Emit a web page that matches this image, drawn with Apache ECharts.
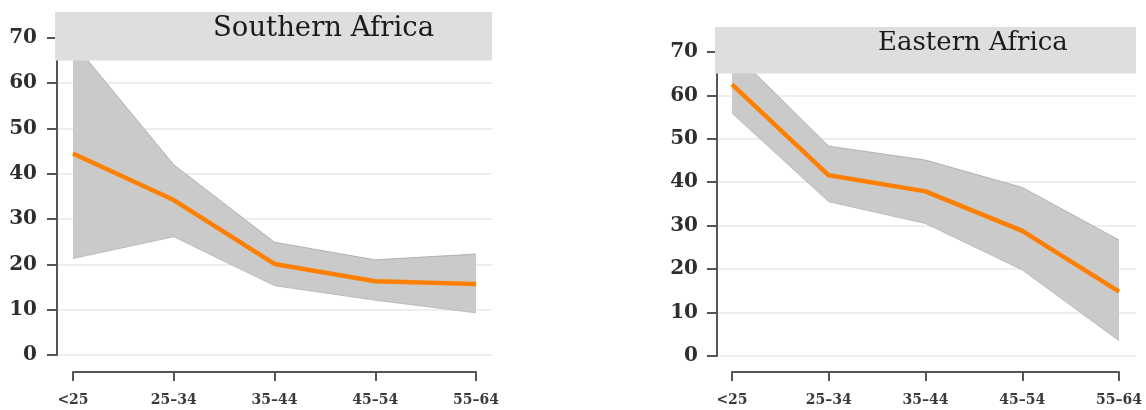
<!DOCTYPE html>
<html>
<head>
<meta charset="utf-8">
<script src="https://cdn.jsdelivr.net/npm/echarts@6/dist/echarts.min.js"></script>
<style>
  html, body { margin: 0; padding: 0; background: #fff; }
  #chart { width: 1146px; height: 410px; }
</style>
</head>
<body>
<div id="chart"></div>
<script>
// 年龄组
const categories = ['<25', '25–34', '35–44', '45–54', '55–64']
const yTicks = [0, 10, 20, 30, 40, 50, 60, 70]
// Southern Africa
const southMean = [44.5, 34.2, 20.1, 16.3, 15.7]
const southUpper = [69, 42, 24.9, 21, 22.3]
const southLower = [21.3, 26.1, 15.3, 12.1, 9.3]
// Eastern Africa
const eastMean = [62.5, 41.6, 37.9, 28.8, 14.8]
const eastUpper = [70.3, 48.3, 45.1, 38.8, 26.7]
const eastLower = [55.9, 35.5, 30.5, 19.8, 3.5]
// 标题横幅范围
const bannerFrom = 65
const axisMax = 75.5

const serif = '"DejaVu Serif", serif'

const myChart = echarts.init(document.getElementById('chart'), null, { renderer: 'canvas' })

const grids = []
const xAxes = []
const yAxes = []
const series = []
const titles = []

// 一个面板：背景网格(y轴+网格线+横幅) + 数据网格(类目x轴)
const addPanel = (p) => {
  const gBg = grids.length
  grids.push({ left: p.bgLeft, width: p.bgWidth, top: p.top, height: p.height })
  grids.push({ left: p.dataLeft, width: p.dataWidth, top: p.top, height: p.height })
  const gData = gBg + 1

  xAxes.push({ gridIndex: gBg, type: 'value', min: 0, max: 1, show: false })
  xAxes.push({
    gridIndex: gData,
    type: 'category',
    data: categories,
    boundaryGap: false,
    offset: p.xOffset,
    axisLine: { onZero: false, lineStyle: { color: '#555', width: 2 } },
    axisTick: { length: 9, lineStyle: { color: '#555', width: 2 } },
    axisLabel: {
      margin: 21,
      color: '#3a3a3a',
      fontFamily: serif,
      fontWeight: 'bold',
      fontSize: 14
    },
    splitLine: { show: false }
  })
  yAxes.push({
    gridIndex: gBg,
    type: 'value',
    min: 0,
    max: axisMax,
    z: 0,
    axisLine: { show: true, lineStyle: { color: '#555', width: 2 } },
    axisTick: { show: true, length: 10, customValues: yTicks, lineStyle: { color: '#555', width: 2 } },
    axisLabel: {
      customValues: yTicks,
      margin: p.labelMargin,
      color: '#2e2e2e',
      fontFamily: serif,
      fontWeight: 'bold',
      fontSize: 20
    },
    splitLine: { show: true, lineStyle: { color: '#e8e8e8', width: 1.5 } }
  })
  yAxes.push({ gridIndex: gData, type: 'value', min: 0, max: axisMax, show: false, splitLine: { show: false } })

  const xi = xAxes.length - 1
  const yi = yAxes.length - 1
  const diff = p.upper.map((v, i) => +(v - p.lower[i]).toFixed(2))

  series.push({
    type: 'line',
    xAxisIndex: xi,
    yAxisIndex: yi,
    data: p.lower,
    stack: p.name,
    symbol: 'none',
    lineStyle: { color: '#b4b4b4', width: 0.8 },
    z: 2
  })
  series.push({
    type: 'line',
    xAxisIndex: xi,
    yAxisIndex: yi,
    data: diff,
    stack: p.name,
    symbol: 'none',
    lineStyle: { color: '#a6a6a6', width: 0.8 },
    areaStyle: { color: '#cacaca', opacity: 1 },
    z: 2
  })
  series.push({
    type: 'line',
    xAxisIndex: xi,
    yAxisIndex: yi,
    data: p.mean,
    symbol: 'none',
    lineStyle: { color: '#ff7f00', width: 4.5 },
    z: 3
  })
  // 标题横幅：盖住背景网格上方 65 以上的部分
  series.push({
    type: 'custom',
    xAxisIndex: xi - 1,
    yAxisIndex: yi - 1,
    data: [[0, bannerFrom, 1, axisMax]],
    silent: true,
    clip: false,
    z: 20,
    renderItem: (params, api) => {
      const a = api.coord([api.value(0), api.value(3)])
      const b = api.coord([api.value(2), api.value(1)])
      return {
        type: 'rect',
        z2: 100,
        shape: { x: a[0] - 2, y: a[1] - 1, width: b[0] - a[0] + 2, height: b[1] - a[1] + 1 },
        style: { fill: '#dedede' }
      }
    }
  })
  titles.push({
    text: p.name,
    left: p.titleLeft,
    top: p.titleTop,
    textStyle: { fontFamily: serif, fontWeight: 'normal', fontSize: p.titleSize, color: '#1a1a1a' },
    z: 30
  })
}

addPanel({
  name: 'Southern Africa',
  bgLeft: 57, bgWidth: 435, dataLeft: 73, dataWidth: 403,
  top: 13, height: 342, xOffset: 17, labelMargin: 20,
  mean: southMean, upper: southUpper, lower: southLower,
  titleLeft: 208, titleTop: 10, titleSize: 27.5
})
addPanel({
  name: 'Eastern Africa',
  bgLeft: 717, bgWidth: 419, dataLeft: 732, dataWidth: 387,
  top: 28, height: 328, xOffset: 16, labelMargin: 19,
  mean: eastMean, upper: eastUpper, lower: eastLower,
  titleLeft: 873, titleTop: 25, titleSize: 26
})

myChart.setOption({
  animation: false,
  backgroundColor: '#fff',
  title: titles,
  grid: grids,
  xAxis: xAxes,
  yAxis: yAxes,
  series: series
})
</script>
</body>
</html>
